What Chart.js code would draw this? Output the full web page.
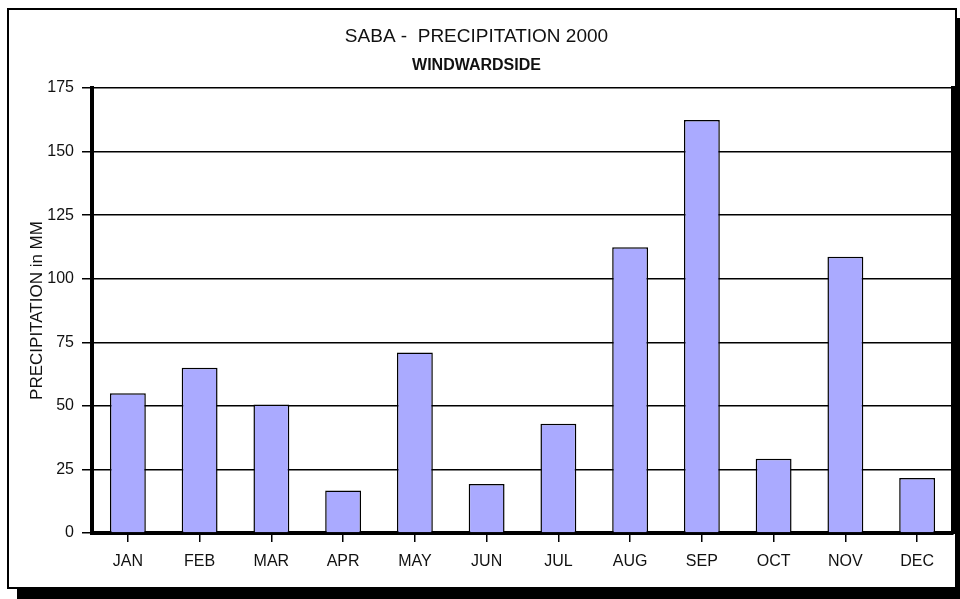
<!DOCTYPE html>
<html lang="en">
<head>
    <meta charset="UTF-8">
    <title>Saba - Precipitation 2000</title>
    <script src="https://cdn.jsdelivr.net/npm/chart.js"></script>
    <style>
        body {
            margin: 0;
            background: #fff;
            font-family: "Liberation Sans", Arial, sans-serif;
        }
        .frame {
            position: absolute;
            left: 7px;
            top: 8px;
            width: 946px;
            height: 577px;
            border: 2px solid #000;
            background: #fff;
            box-shadow: 10px 10px 0 #000;
        }
        canvas {
            position: absolute;
            left: 0;
            top: 0;
        }
    </style>
</head>
<body>
    <div class="frame"></div>
    <canvas id="rainChart" width="960" height="599"></canvas>

    <script>
        // valori (mm)
        const months = ['JAN', 'FEB', 'MAR', 'APR', 'MAY', 'JUN', 'JUL', 'AUG', 'SEP', 'OCT', 'NOV', 'DEC'];
        const precipitation = [55, 65, 50.5, 16.7, 71, 19.3, 43, 112.4, 162.4, 29.2, 108.6, 21.6];
        const yTicks = [0, 25, 50, 75, 100, 125, 150, 175];

        const fontFamily = '"Liberation Sans", Arial, sans-serif';

        new Chart(document.getElementById('rainChart').getContext('2d'), {
            type: 'bar',
            data: {
                labels: months,
                datasets: [{
                    label: 'Precipitation',
                    data: precipitation,
                    backgroundColor: '#aaaaff',
                    borderColor: '#000',
                    borderWidth: 1.5,
                    barPercentage: 0.5,
                    categoryPercentage: 1
                }]
            },
            options: {
                responsive: false,
                animation: false,
                devicePixelRatio: 1,
                layout: { padding: { left: 0, right: 7, top: 0, bottom: 0 } },
                plugins: {
                    legend: { display: false },
                    tooltip: { enabled: false },
                    title: {
                        display: true,
                        text: 'SABA -  PRECIPITATION 2000',
                        color: '#111',
                        font: { family: fontFamily, size: 19, weight: 'normal', lineHeight: 1.2 },
                        padding: { top: 25, bottom: 4 }
                    },
                    subtitle: {
                        display: true,
                        text: 'WINDWARDSIDE',
                        color: '#111',
                        font: { family: fontFamily, size: 16, weight: 'bold', lineHeight: 1.2 },
                        padding: { top: 4.5, bottom: 12.5 }
                    }
                },
                scales: {
                    x: {
                        grid: {
                            display: true,
                            drawOnChartArea: false,
                            drawTicks: true,
                            tickLength: 9,
                            offset: false,
                            color: '#000',
                            lineWidth: 1.5
                        },
                        border: { display: true, color: '#000', width: 4 },
                        ticks: {
                            color: '#111',
                            padding: 10,
                            font: { family: fontFamily, size: 16 }
                        },
                        afterFit: scale => { scale.height = 66; }
                    },
                    y: {
                        min: 0,
                        max: 175,
                        afterBuildTicks: scale => { scale.ticks = yTicks.map(v => ({ value: v })); },
                        grid: {
                            color: '#000',
                            lineWidth: 1.5,
                            tickLength: 10
                        },
                        border: { display: true, color: '#000', width: 4 },
                        ticks: {
                            color: '#111',
                            padding: 8,
                            font: { family: fontFamily, size: 16 }
                        },
                        title: {
                            display: true,
                            text: 'PRECIPITATION in MM',
                            color: '#111',
                            font: { family: fontFamily, size: 17 },
                            padding: { top: 27, bottom: 0 }
                        },
                        afterFit: scale => { scale.width = 92; }
                    },
                    yRight: {
                        position: 'right',
                        min: 0,
                        max: 175,
                        grid: { drawOnChartArea: false, drawTicks: false },
                        border: { display: true, color: '#000', width: 4 },
                        ticks: { display: false },
                        afterFit: scale => { scale.width = 0; }
                    }
                }
            }
        });
    </script>
</body>
</html>
